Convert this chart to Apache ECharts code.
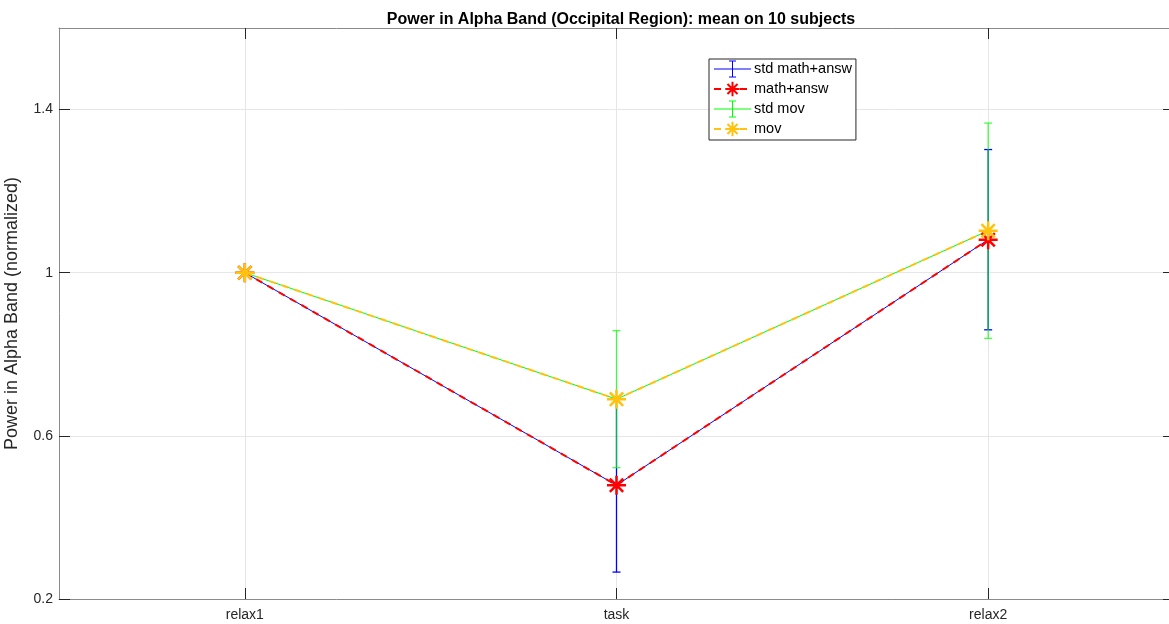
<!DOCTYPE html>
<html>
<head>
<meta charset="utf-8">
<script src="https://cdn.jsdelivr.net/npm/echarts@6/dist/echarts.min.js"></script>
<style>
  html, body { margin: 0; padding: 0; background: #fff; }
  #chart { width: 1169px; height: 624px; }
</style>
</head>
<body>
<div id="chart"></div>
<script>
const categories = ['relax1', 'task', 'relax2']
const mathMean = [1.0, 0.479, 1.081]
const mathStd = [0, 0.213, 0.221]
const movMean = [1.0, 0.69, 1.103]
const movStd = [0, 0.168, 0.264]
const yTicks = [0.2, 0.6, 1.0, 1.4]
const xTicks = [1, 2, 3]

const FONT = '"Liberation Sans", Arial, Helvetica, sans-serif'
const BLUE = '#0000ff'
const RED = '#ff0000'
const GREEN = '#00ff00'
const YELLOW = '#ffc20e'

// star marker drawn as strokes
const STAR = 'path://M10,0L10,20M0,10L20,10M3,3L17,17M3,17L17,3'
// errorbar legend icon built from thin rectangles
const EBAR = 'path://M0,8.5L37,8.5L37,9.5L0,9.5Z M18,1L19,1L19,17L18,17Z M15,0.5L22,0.5L22,1.5L15,1.5Z M15,16.5L22,16.5L22,17.5L15,17.5Z'

const pts = (arr) => arr.map((v, i) => [xTicks[i], v])

function errorBars(name, means, stds, color, opacity) {
  return {
    name,
    type: 'custom',
    silent: true,
    data: means.map((m, i) => [xTicks[i], m, stds[i]]),
    encode: { x: 0, y: 1 },
    renderItem: (params, api) => {
      const x = api.value(0), m = api.value(1), s = api.value(2)
      const top = api.coord([x, m + s])
      const bot = api.coord([x, m - s])
      const hw = 4
      const st = { stroke: color, lineWidth: 1.3, opacity }
      return {
        type: 'group',
        children: [
          { type: 'line', shape: { x1: top[0], y1: top[1], x2: bot[0], y2: bot[1] }, style: st },
          { type: 'line', shape: { x1: top[0] - hw, y1: top[1], x2: top[0] + hw, y2: top[1] }, style: st },
          { type: 'line', shape: { x1: bot[0] - hw, y1: bot[1], x2: bot[0] + hw, y2: bot[1] }, style: st },
        ],
      }
    },
  }
}

const axisLineStyle = { color: '#8a8a8a', width: 1 }
const tickStyle = { color: '#262626', width: 1 }

const chart = echarts.init(document.getElementById('chart'), null, { renderer: 'canvas' })
chart.setOption({
  animation: false,
  textStyle: { fontFamily: FONT },
  title: {
    text: 'Power in Alpha Band (Occipital Region): mean on 10 subjects',
    left: 616,
    textAlign: 'center',
    top: 7,
    textStyle: { fontSize: 16, fontWeight: 'bold', color: '#000', fontFamily: FONT },
  },
  grid: { left: 59, right: -5, top: 28, bottom: 25, containLabel: false, outerBoundsMode: 'none' },
  legend: {
    left: 709,
    top: 59,
    orient: 'vertical',
    itemWidth: 37,
    itemHeight: 18,
    itemGap: 2,
    padding: [1, 4, 2, 4],
    borderColor: '#262626',
    borderWidth: 1,
    backgroundColor: '#fff',
    textStyle: { fontSize: 14.5, color: '#000', fontFamily: FONT, lineHeight: 18, padding: [0, 0, 0, -2] },
    selectedMode: false,
    data: [
      { name: 'std math+answ', icon: EBAR, itemStyle: { color: BLUE } },
      { name: 'math+answ' },
      { name: 'std mov', icon: EBAR, itemStyle: { color: GREEN } },
      { name: 'mov' },
    ],
  },
  xAxis: [
    {
      type: 'value',
      min: 0.5,
      max: 3.5,
      position: 'bottom',
      axisLine: { show: true, lineStyle: axisLineStyle },
      axisTick: { show: true, inside: true, length: 11, lineStyle: tickStyle, customValues: xTicks },
      axisLabel: {
        customValues: xTicks,
        formatter: v => categories[Math.round(v) - 1] || '',
        color: '#262626',
        fontSize: 14,
        margin: 9,
      },
      splitLine: { show: true, lineStyle: { color: '#e6e6e6', width: 1 } },
    },
    {
      type: 'value',
      min: 0.5,
      max: 3.5,
      position: 'top',
      axisLine: { show: true, lineStyle: axisLineStyle },
      axisTick: { show: true, inside: true, length: 11, lineStyle: tickStyle, customValues: xTicks },
      axisLabel: { show: false },
      splitLine: { show: false },
    },
  ],
  yAxis: [
    {
      type: 'value',
      min: 0.2,
      max: 1.6,
      position: 'left',
      name: 'Power in Alpha Band (normalized)',
      nameLocation: 'middle',
      nameGap: 38,
      nameTextStyle: { fontSize: 18, color: '#262626', fontFamily: FONT },
      axisLine: { show: true, lineStyle: axisLineStyle },
      axisTick: { show: true, inside: true, length: 11, lineStyle: tickStyle, customValues: yTicks },
      axisLabel: {
        customValues: yTicks,
        formatter: v => String(Math.round(v * 10) / 10),
        color: '#262626',
        fontSize: 14,
        margin: 6,
      },
      splitLine: { show: true, lineStyle: { color: '#e6e6e6', width: 1 } },
    },
    {
      type: 'value',
      min: 0.2,
      max: 1.6,
      position: 'right',
      axisLine: { show: true, lineStyle: axisLineStyle },
      axisTick: { show: true, inside: true, length: 11, lineStyle: tickStyle, customValues: yTicks },
      axisLabel: { show: false },
      splitLine: { show: false },
    },
  ],
  series: [
    {
      name: 'std math+answ',
      type: 'line',
      data: pts(mathMean),
      symbol: 'none',
      lineStyle: { color: BLUE, width: 1 },
      itemStyle: { color: BLUE },
    },
    errorBars('std math+answ bars', mathMean, mathStd, BLUE, 1),
    {
      name: 'math+answ',
      type: 'line',
      data: pts(mathMean),
      symbol: STAR,
      symbolSize: 19,
      lineStyle: { color: RED, width: 2, type: [7, 6] },
      itemStyle: { color: RED, borderColor: RED, borderWidth: 2.5 },
    },
    {
      name: 'std mov',
      type: 'line',
      data: pts(movMean),
      symbol: 'none',
      lineStyle: { color: GREEN, width: 1 },
      itemStyle: { color: GREEN },
    },
    errorBars('std mov bars', movMean, movStd, GREEN, 0.72),
    {
      name: 'mov',
      type: 'line',
      data: pts(movMean),
      symbol: STAR,
      symbolSize: 19,
      lineStyle: { color: YELLOW, width: 2, type: [7, 6] },
      itemStyle: { color: YELLOW, borderColor: YELLOW, borderWidth: 2.5 },
    },
  ],
})
</script>
</body>
</html>
